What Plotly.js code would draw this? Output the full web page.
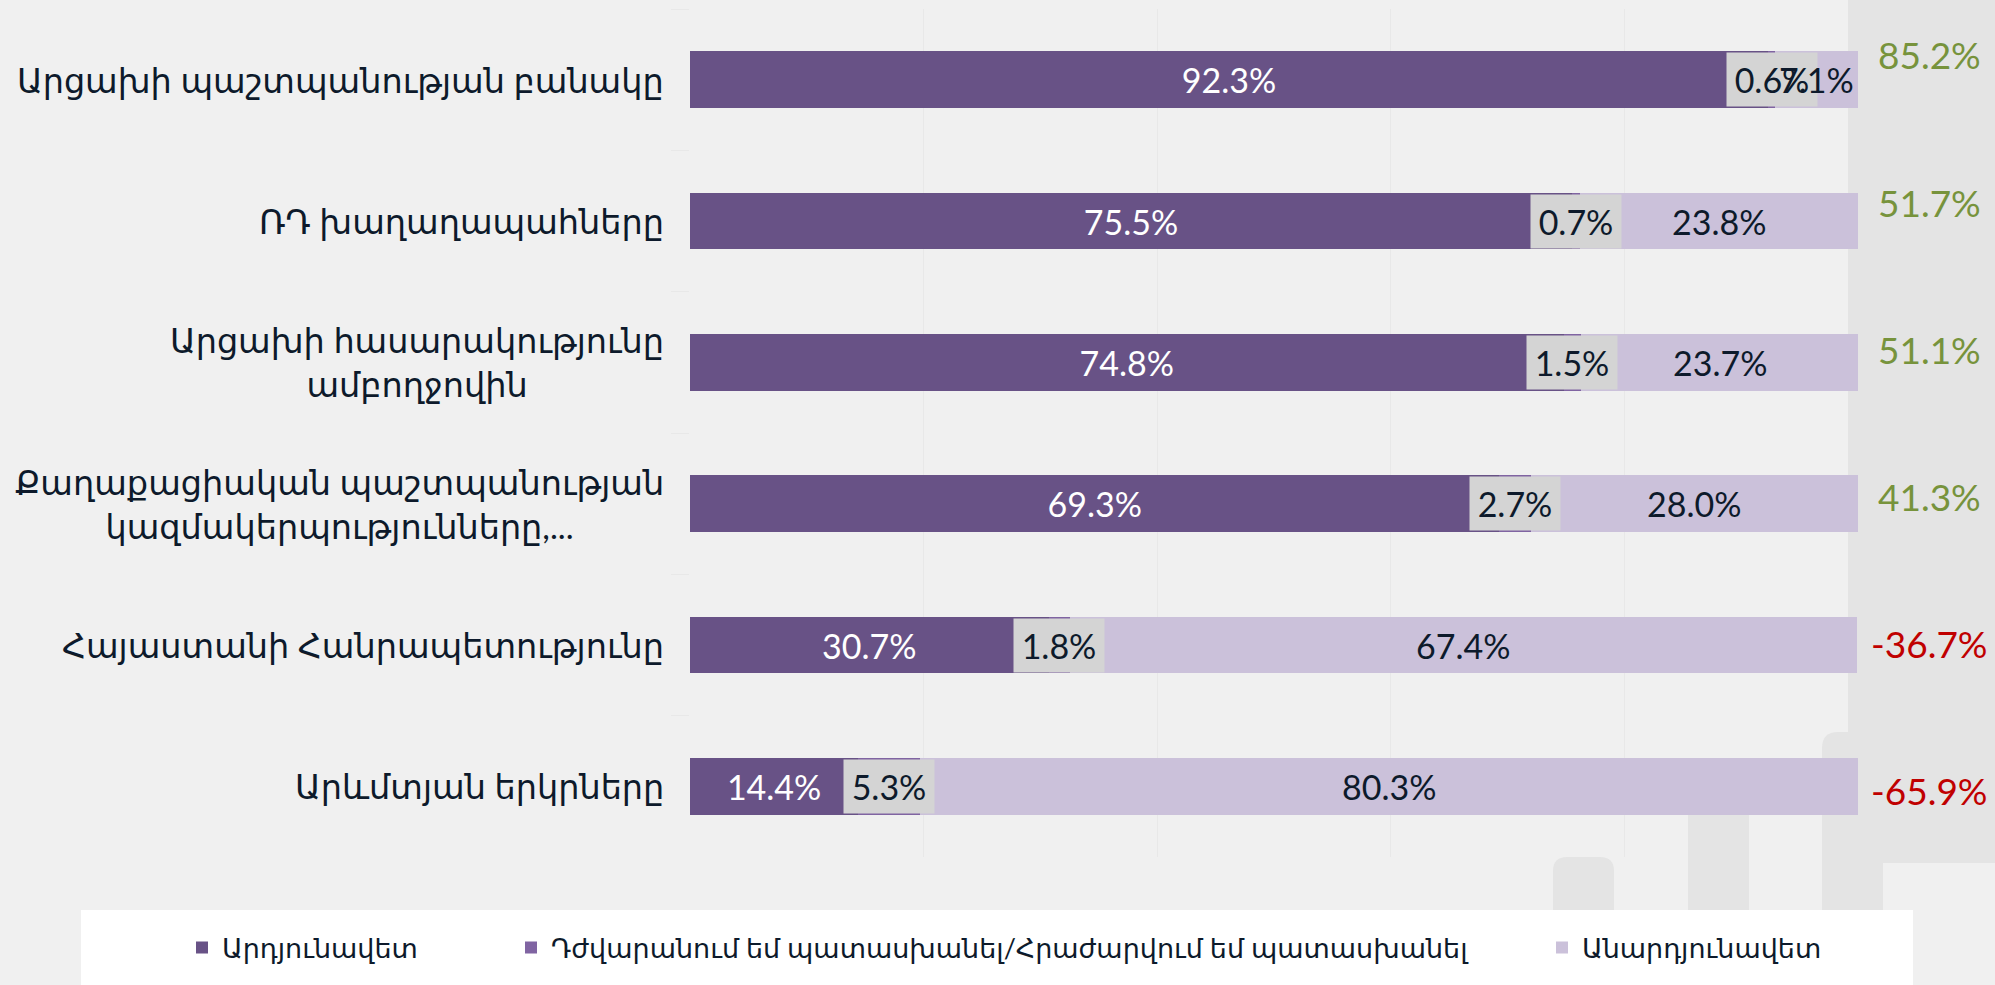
<!DOCTYPE html>
<html><head><meta charset="utf-8">
<script src="https://cdn.plot.ly/plotly-3.0.1.min.js"></script>
<style>html,body{margin:0;padding:0;background:#f0f0f0;}#chart{width:1995px;height:985px;}</style>
</head><body><div id="chart"></div>
<script>
// ---- data ----
const categories = [
  "Արցախի պաշտպանության բանակը",
  "ՌԴ խաղաղապահները",
  "Արցախի հասարակությունը<br>ամբողջովին",
  "Քաղաքացիական պաշտպանության<br>կազմակերպությունները,...",
  "Հայաստանի Հանրապետությունը",
  "Արևմտյան երկրները"
];
const effective   = [92.3, 75.5, 74.8, 69.3, 30.7, 14.4];
const unsure      = [0.6, 0.7, 1.5, 2.7, 1.8, 5.3];
const ineffective = [7.1, 23.8, 23.7, 28.0, 67.4, 80.3];
const netScore    = [85.2, 51.7, 51.1, 41.3, -36.7, -65.9];
const seriesNames = [
  "Արդյունավետ",
  "Դժվարանում եմ պատասխանել/Հրաժարվում եմ պատասխանել",
  "Անարդյունավետ"
];

// ---- style ----
const C_EFF = '#685286', C_UNS = '#8064a2', C_INE = '#cbc1da';
const C_TXT = '#0d1a2b', C_BOX = '#d4d4d4', C_POS = '#77933c', C_NEG = '#c00000';
const FONT = 'Lato, "DejaVu Sans", sans-serif';
const W = 1995, H = 985, L = 690, R = 137, T = 9, B = 128;
const PW = W - L - R, PH = H - T - B;
const px = x => (x - L) / PW;
const py = y => (H - B - y) / PH;

const traces = [
  {type:'bar', orientation:'h', name:seriesNames[0], y:categories, x:effective,
   marker:{color:C_EFF}, texttemplate:'%{x:.1f}%', textposition:'inside',
   insidetextanchor:'middle', constraintext:'none',
   textfont:{color:'#ffffff', size:34, family:FONT}, hoverinfo:'skip', legend:'legend'},
  {type:'bar', orientation:'h', name:seriesNames[1], y:categories, x:unsure,
   marker:{color:C_UNS}, textposition:'none', hoverinfo:'skip', legend:'legend2'},
  {type:'bar', orientation:'h', name:seriesNames[2], y:categories, x:ineffective,
   marker:{color:C_INE}, textposition:'none', hoverinfo:'skip', legend:'legend3'}
];

const annotations = [];
categories.forEach((c, i) => {
  annotations.push({xref:'x', yref:'y', x: effective[i] + unsure[i] / 2, y: c,
    text: unsure[i].toFixed(1) + '%', showarrow:false, bgcolor:C_BOX,
    width:90, height:53, borderpad:0, font:{size:34, color:C_TXT, family:FONT}});
});
categories.forEach((c, i) => {
  annotations.push({xref:'x', yref:'y', x: effective[i] + unsure[i] + ineffective[i] / 2, y: c,
    text: ineffective[i].toFixed(1) + '%', showarrow:false,
    font:{size:34, color:C_TXT, family:FONT}});
});
categories.forEach((c, i) => {
  annotations.push({xref:'paper', yref:'y', x: px(666), xanchor:'right', align:'center', y: c,
    text: c, showarrow:false, font:{size:33.5, color:C_TXT, family:FONT}});
});
netScore.forEach((v, i) => {
  annotations.push({xref:'paper', yref:'paper', x: px(1929), y: py(55 + 147 * i),
    xanchor:'center', yanchor:'middle', text: v.toFixed(1) + '%', showarrow:false,
    font:{size:37, color: v >= 0 ? C_POS : C_NEG, family:FONT}});
});

function roundTop(x0, x1, y0, y1, r) {
  const X0 = px(x0), X1 = px(x1), Y0 = py(y0), Y1 = py(y1);
  const rx = r / PW, ry = r / PH;
  return `M${X0},${Y1} L${X0},${Y0 - ry} Q${X0},${Y0} ${X0 + rx},${Y0} L${X1 - rx},${Y0} Q${X1},${Y0} ${X1},${Y0 - ry} L${X1},${Y1} Z`;
}
const bgGray = '#e4e4e4';
const shapes = [
  {type:'rect', xref:'paper', yref:'paper', layer:'below', x0:px(1848), x1:px(1995), y0:py(0), y1:py(863),
   fillcolor:bgGray, line:{width:0}},
  {type:'path', xref:'paper', yref:'paper', layer:'below', path:roundTop(1553, 1614, 857, 985, 14), fillcolor:bgGray, line:{width:0}},
  {type:'path', xref:'paper', yref:'paper', layer:'below', path:roundTop(1688, 1749, 790, 985, 14), fillcolor:bgGray, line:{width:0}},
  {type:'path', xref:'paper', yref:'paper', layer:'below', path:roundTop(1822, 1883, 732, 985, 16), fillcolor:bgGray, line:{width:0}},
  {type:'rect', xref:'paper', yref:'paper', layer:'below', x0:px(81), x1:px(1913), y0:py(910), y1:py(990),
   fillcolor:'#ffffff', line:{width:0}}
];

const legendBase = {orientation:'h', yanchor:'middle', xanchor:'left', y: py(948),
  bgcolor:'rgba(0,0,0,0)', borderwidth:0, font:{size:27, color:C_TXT, family:FONT}};

const layout = {
  width:W, height:H, paper_bgcolor:'#f0f0f0', plot_bgcolor:'rgba(0,0,0,0)',
  margin:{l:L, r:R, t:T, b:B, pad:0},
  barmode:'stack', bargap:0.6,
  showlegend:true,
  legend: Object.assign({}, legendBase, {x: px(182)}),
  legend2: Object.assign({}, legendBase, {x: px(511)}),
  legend3: Object.assign({}, legendBase, {x: px(1542)}),
  xaxis:{range:[0,100], dtick:20, tick0:0, showgrid:true, gridcolor:'#e8e8e8', gridwidth:1,
    zeroline:false, showticklabels:false, ticks:'', fixedrange:true},
  yaxis:{type:'category', range:[5.5,-0.5], showgrid:false, zeroline:false, showticklabels:false,
    ticks:'outside', tickson:'boundaries', ticklen:18, tickcolor:'#e8e8e8', tickwidth:1, showline:false, fixedrange:true},
  annotations: annotations,
  shapes: shapes
};

Plotly.newPlot('chart', traces, layout, {displayModeBar:false, staticPlot:true});
</script>
</body></html>
